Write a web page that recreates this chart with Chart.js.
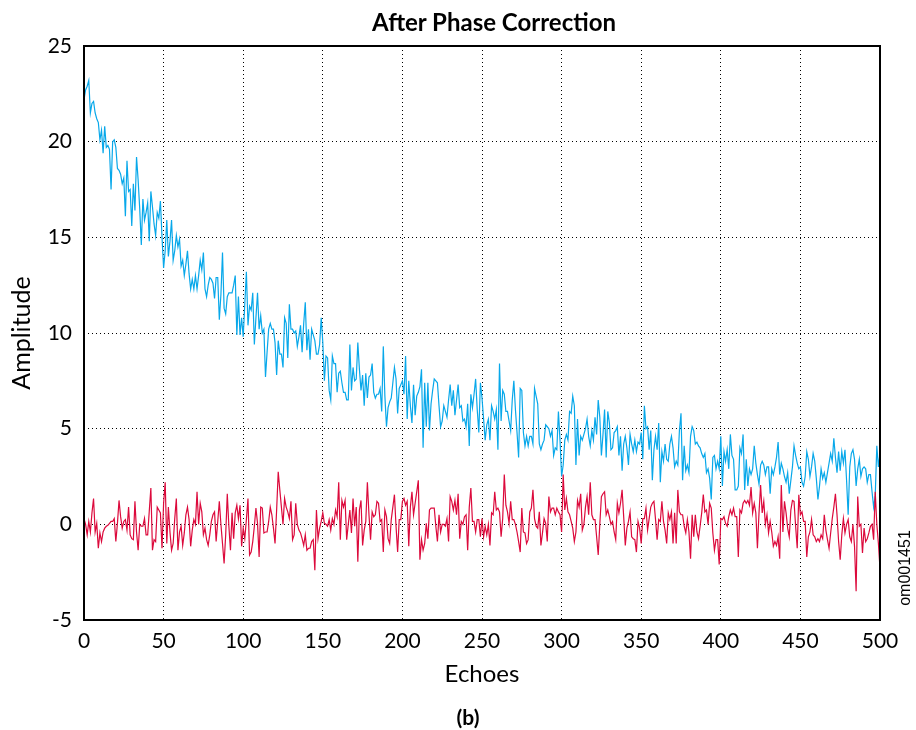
<!DOCTYPE html>
<html>
<head>
<meta charset="utf-8">
<script src="https://cdn.jsdelivr.net/npm/chart.js@4.4.1/dist/chart.umd.min.js"></script>
<style>
  body { margin: 0; background: #fff; }
  #wrap { position: relative; width: 916px; height: 730px; }
  #title { position: absolute; left: 294px; top: 7px; width: 400px; text-align: center;
           font: bold 24px Lato, sans-serif; color: #000; }
  #caption { position: absolute; left: 438px; top: 704px; width: 60px; text-align: center;
             font: bold 21px Lato, sans-serif; color: #000; }
  #code { position: absolute; left: 865px; top: 559px; width: 80px; height: 18px; text-align: center;
          font: 16px "Liberation Sans", sans-serif; color: #000; transform: rotate(-90deg); }
</style>
</head>
<body>
<div id="wrap">
  <canvas id="chart" width="916" height="730"></canvas>
  <div id="title">After Phase Correction</div>
  <div id="caption">(b)</div>
  <div id="code">om001451</div>
</div>
<script>
// amplitude per echo, echo = index (0..500)
const blueAmp = [
  22.2, 22.7, 22.9, 23.2, 21.5, 22.0, 22.1, 21.5, 21.2, 21.0,
  20.1, 20.6, 19.4, 20.8, 19.7, 19.8, 19.6, 17.5, 20.0, 20.1,
  19.7, 18.6, 18.5, 18.3, 17.8, 18.1, 16.1, 19.0, 17.4, 17.5,
  15.6, 17.8, 16.4, 19.2, 18.0, 16.5, 14.6, 17.0, 15.9, 16.3,
  16.8, 14.8, 17.4, 16.6, 15.7, 15.1, 16.3, 16.0, 16.9, 15.0,
  13.4, 14.3, 15.9, 14.0, 14.8, 15.9, 13.8, 14.3, 15.1, 14.5,
  14.9, 13.5, 13.8, 13.0, 13.6, 14.3, 13.1, 12.3, 12.8, 12.3,
  13.0, 12.3, 13.0, 13.8, 13.3, 14.2, 12.3, 11.9, 12.5, 12.9,
  12.8, 12.6, 11.8, 12.9, 12.9, 10.7, 12.0, 14.2, 11.3, 11.0,
  11.9, 12.1, 12.1, 12.1, 12.5, 13.0, 9.9, 11.9, 9.9, 10.8,
  9.8, 11.5, 13.2, 10.4, 11.4, 11.2, 12.1, 9.4, 10.8, 12.1,
  10.2, 10.9, 10.0, 10.2, 7.7, 9.0, 10.2, 10.5, 10.2, 10.2,
  9.5, 7.8, 9.6, 8.9, 8.9, 8.2, 10.8, 10.5, 8.7, 11.5,
  10.2, 10.2, 10.0, 10.1, 9.3, 9.8, 10.4, 9.0, 10.5, 11.6,
  9.1, 10.2, 8.6, 10.2, 9.9, 9.6, 8.9, 8.9, 9.4, 10.8,
  9.5, 7.5, 8.8, 8.7, 7.0, 6.5, 8.8, 8.4, 8.4, 6.9,
  7.9, 8.0, 7.4, 6.9, 6.9, 6.5, 6.5, 9.4, 7.0, 8.2,
  7.5, 7.6, 9.5, 8.1, 7.0, 7.8, 6.2, 7.9, 6.6, 7.7,
  7.8, 8.4, 6.9, 6.6, 6.8, 6.8, 7.1, 5.9, 9.3, 6.7,
  5.1, 6.1, 6.4, 6.6, 7.4, 8.2, 7.6, 5.8, 7.1, 7.3,
  7.5, 6.8, 8.8, 5.5, 7.5, 6.2, 5.3, 7.3, 5.7, 6.7,
  6.9, 7.2, 8.1, 4.0, 7.4, 5.1, 7.4, 4.9, 6.3, 7.0,
  7.6, 7.5, 7.4, 6.2, 5.1, 5.4, 6.2, 5.9, 5.6, 6.5,
  7.3, 6.2, 7.0, 5.7, 6.5, 7.3, 6.1, 6.2, 5.4, 5.5,
  5.1, 6.3, 4.1, 6.8, 6.1, 6.8, 7.6, 6.0, 4.8, 7.4,
  6.6, 5.5, 4.4, 5.2, 5.5, 4.4, 6.2, 5.9, 5.5, 6.0,
  3.9, 8.4, 5.4, 7.0, 6.8, 5.9, 5.9, 5.4, 4.9, 6.5,
  7.5, 6.0, 4.8, 3.5, 7.1, 7.0, 4.8, 4.1, 4.6, 4.1,
  4.6, 4.6, 4.2, 7.1, 6.7, 6.3, 4.2, 3.9, 4.2, 4.4,
  5.2, 5.1, 5.0, 4.6, 4.9, 3.6, 4.0, 3.9, 5.9, 4.4,
  2.5, 3.1, 4.4, 4.7, 4.4, 5.9, 5.8, 6.7, 6.2, 3.1,
  5.5, 3.6, 4.6, 4.4, 4.7, 5.0, 5.5, 4.6, 4.1, 4.9,
  4.4, 5.6, 4.7, 6.5, 5.6, 3.6, 4.7, 6.0, 3.5, 5.9,
  5.3, 3.9, 4.0, 4.8, 4.9, 5.1, 3.6, 4.6, 2.8, 4.2,
  4.6, 4.0, 3.1, 4.7, 4.2, 3.8, 4.4, 3.8, 4.3, 4.2,
  4.8, 3.4, 6.2, 5.0, 5.1, 3.9, 4.9, 2.3, 3.9, 4.6,
  3.9, 5.3, 2.2, 3.8, 3.3, 4.2, 3.4, 3.3, 4.2, 4.6,
  4.0, 3.0, 3.3, 3.1, 4.9, 5.8, 2.3, 4.1, 2.8, 3.1,
  2.7, 4.6, 5.1, 4.9, 4.2, 4.3, 4.1, 4.0, 3.7, 3.5,
  3.7, 2.7, 2.9, 2.4, 1.3, 3.5, 3.6, 2.9, 3.3, 2.9,
  4.6, 2.0, 3.8, 3.3, 3.9, 2.9, 4.7, 3.6, 3.4, 1.8,
  1.8, 2.0, 4.0, 3.7, 4.7, 1.8, 3.4, 2.0, 2.9, 2.6,
  2.9, 4.1, 3.2, 2.6, 2.1, 3.1, 3.3, 3.1, 2.6, 3.0,
  3.0, 1.6, 2.9, 2.6, 3.0, 3.5, 4.3, 2.6, 3.2, 2.9,
  2.5, 2.2, 2.7, 1.6, 2.3, 3.0, 4.1, 3.6, 3.2, 2.9,
  3.0, 2.2, 2.0, 2.5, 3.8, 3.4, 2.5, 3.0, 3.7, 3.3,
  2.4, 1.3, 2.0, 2.9, 2.4, 2.7, 2.2, 2.7, 3.2, 3.7,
  3.3, 4.5, 3.5, 2.7, 3.8, 2.8, 3.8, 3.2, 3.9, 2.3,
  0.5, 3.0, 3.7, 3.9, 3.4, 2.0, 2.9, 3.4, 2.5, 2.9,
  3.0, 2.9, 2.2, 2.6, 2.6, 1.7, 0.9, 1.5, 4.1, 3.0,
  3.7
];

const redAmp = [
  0.3, 0.0, -0.55, 0.15, -0.4, 0.6, 1.35, -0.4, 0.05, -1.25,
  -0.45, -0.9, -0.4, -0.2, -0.1, -0.05, 0.05, 0.15, 0.15, 0.3,
  -0.9, 0.05, 1.25, 0.4, -0.2, 0.15, 0.25, -0.3, 0.9, -0.55,
  -0.75, -0.8, 1.2, -0.4, -1.35, 0.0, -0.1, -0.1, 0.3, -0.55,
  -0.55, 0.7, 1.9, -1.35, -0.8, -0.9, 0.9, 0.75, 0.6, -1.25,
  1.1, 2.2, -1.0, 0.9, -0.4, -1.35, -1.0, 0.3, 1.35, -1.35,
  -0.4, -0.1, -1.1, -0.45, 0.5, 0.9, 0.25, -1.15, -0.3, 0.25,
  0.0, 1.7, 0.0, 1.1, 0.65, -0.55, -0.2, -0.8, -1.1, -0.55,
  0.15, 0.5, 0.65, -0.9, 0.15, 1.2, 0.0, -1.0, -2.05, -0.55,
  1.6, -0.1, -1.35, 0.6, -0.75, 0.6, 1.0, 0.3, 1.0, -1.15,
  -0.2, -0.75, 0.25, 1.35, -1.6, -1.45, -0.9, -0.1, 0.85, 0.05,
  -1.7, 0.9, 0.85, -0.45, -0.4, -0.4, 0.15, 0.9, 0.5, -0.2,
  -1.0, 0.75, 2.75, 1.8, 0.9, 0.0, 1.35, 0.9, 0.65, 0.3,
  1.2, -0.8, -0.55, 1.1, 0.0, -0.3, -0.45, -0.75, -1.1, -0.55,
  -1.35, -1.25, -1.25, -0.9, -0.8, -2.4, 0.75, -0.75, -0.2, 0.15,
  0.6, 0.05, 0.0, -0.1, 0.25, -0.3, 0.3, 0.0, 0.75, 0.4,
  2.2, -0.8, 1.25, 0.9, 1.25, -0.8, 0.0, 0.75, -0.45, 1.35,
  -0.1, 0.9, -1.95, 0.75, 1.25, -1.1, -0.3, 0.15, 2.2, 0.5,
  -0.8, 0.65, 0.4, 0.5, 1.2, 1.1, 0.15, 0.25, -1.45, 0.75,
  0.4, -0.75, -1.0, 0.25, 0.9, 1.55, -0.1, -1.45, 0.25, 0.25,
  1.2, 1.35, 1.0, 1.2, -1.15, 0.9, 1.7, 0.5, 1.1, 1.7,
  2.3, -1.85, -0.8, -1.35, -1.0, 0.05, -0.75, 0.75, 0.85, 0.85,
  0.85, -0.1, -0.9, 0.5, -0.4, 0.0, 0.0, -0.1, 0.3, -0.9,
  1.45, 1.2, 0.75, 1.25, 0.5, 1.6, -0.75, 0.15, 0.0, 0.4,
  0.5, -1.35, 0.9, 1.9, 0.15, 0.15, -0.4, 0.25, 0.25, -0.65,
  0.3, -0.65, -0.1, -0.55, 0.0, -1.1, 0.6, 0.5, 1.7, 0.75,
  0.85, 0.65, -0.65, 0.3, 2.6, 1.0, 0.65, 0.05, 1.2, 0.25,
  0.25, 0.0, -0.4, -0.9, -1.45, 0.85, -0.4, -0.45, -1.0, -0.8,
  0.65, 0.85, 1.8, 0.3, -0.1, -0.2, 0.65, -1.1, -0.45, 0.3,
  0.05, -0.9, 1.45, 0.65, 0.85, 0.85, 0.5, 0.85, 0.65, 0.5,
  -0.4, 2.6, 0.75, 1.35, 0.65, 0.5, 0.15, -0.2, -0.9, -0.4,
  1.25, 0.9, 1.6, -0.3, 0.0, 0.9, 1.45, 0.5, 2.2, 0.5,
  0.25, 0.25, -0.65, -1.6, 0.0, 1.45, 1.6, 1.7, 0.5, 0.75,
  0.4, 0.0, 0.15, -0.4, -0.8, 1.1, 0.6, 1.1, 1.8, 0.4,
  -1.1, -0.2, 0.15, 0.65, -0.65, -0.75, -0.8, -1.45, 0.15, -0.2,
  -1.0, 0.3, 0.3, 0.85, -0.3, 0.3, 0.9, 1.1, 1.2, 0.25,
  -0.8, 0.25, 0.15, 1.2, 0.15, -0.3, -1.0, 0.6, 0.25, 0.65,
  -1.0, 0.6, -1.0, 1.8, 0.65, 0.5, 0.5, -0.1, -0.45, 0.25,
  -0.4, -1.8, 0.5, -0.65, 0.5, -0.4, -0.75, -0.1, 0.6, 1.55,
  0.65, 0.75, 0.0, 1.1, 0.85, -0.45, -1.35, -0.8, -0.8, -2.1,
  0.3, 0.25, 0.4, 0.05, -0.1, 0.4, 0.75, 0.5, 0.85, 0.4,
  0.4, -1.7, 0.75, 0.6, 1.1, 1.25, 1.1, 1.25, 1.0, 1.95,
  0.6, 1.1, 0.6, -1.25, 0.6, 2.05, 0.6, 1.2, 0.0, 0.5,
  -0.45, 0.15, -0.4, -1.15, -0.9, -1.1, -0.65, -1.8, 2.05, -0.4,
  1.2, 0.6, -0.2, -0.65, 0.75, 1.25, 1.2, -0.1, -1.25, 1.55,
  0.5, 0.65, 0.15, 0.15, -1.7, -0.65, -0.4, 0.25, -0.55, -0.65,
  -0.9, -0.75, -0.9, -0.55, -0.75, 0.5, -0.3, -0.8, -1.25, -0.45,
  0.3, 0.9, 1.6, 0.5, -0.9, -1.85, -0.55, 0.3, -0.45, 0.0,
  0.25, -0.65, -0.9, 0.0, -1.15, -3.5, 1.45, -0.1, 0.0, -1.5,
  -0.2, -0.9, -0.75, -0.45, -0.1, 0.0, -0.8, 1.7, 0.0, -1.0,
  -2.3
];

const xRange = [0, 500];
const yRange = [-5, 25];

const toPoints = arr => arr.map((v, i) => ({ x: i, y: v }));

// black frame round the plot area
const framePlugin = {
    id: 'frame',
    afterDatasetsDraw(chart) {
        const { ctx, chartArea: a } = chart;
        ctx.save();
        ctx.strokeStyle = '#000';
        ctx.lineWidth = 2;
        ctx.strokeRect(a.left, a.top, a.right - a.left, a.bottom - a.top);
        ctx.restore();
    }
};

const tickFont = { family: 'Lato', size: 21 };

new Chart(document.getElementById('chart').getContext('2d'), {
    type: 'line',
    data: {
        datasets: [
            {
                label: 'imaginary',
                data: toPoints(redAmp),
                borderColor: '#dc0a3c',
                borderWidth: 1.2,
                pointRadius: 0,
                tension: 0
            },
            {
                label: 'real',
                data: toPoints(blueAmp),
                borderColor: '#08a8ea',
                borderWidth: 1.2,
                pointRadius: 0,
                tension: 0
            }
        ]
    },
    options: {
        responsive: false,
        animation: false,
        layout: { padding: { top: 46, right: 36, bottom: 40, left: 0 } },
        plugins: {
            legend: { display: false },
            tooltip: { enabled: false },
            title: { display: false }
        },
        scales: {
            x: {
                type: 'linear',
                min: xRange[0],
                max: xRange[1],
                ticks: { stepSize: 50, color: '#000', font: tickFont, padding: 9, maxRotation: 0 },
                grid: { color: '#000', lineWidth: 1, drawTicks: false },
                border: { display: false, dash: [1, 3] },
                title: { display: true, text: 'Echoes', color: '#000', font: { family: 'Lato', size: 24 }, padding: { top: 0, bottom: 1 } },
                afterFit(scale) { scale.height = 70; }
            },
            y: {
                min: yRange[0],
                max: yRange[1],
                ticks: { stepSize: 5, color: '#000', font: tickFont, padding: 12 },
                grid: { color: '#000', lineWidth: 1, drawTicks: false },
                border: { display: false, dash: [1, 3] },
                title: { display: true, text: 'Amplitude', color: '#000', font: { family: 'Lato', size: 25 }, padding: { top: 7, bottom: 0 } },
                afterFit(scale) { scale.width = 84; }
            }
        }
    },
    plugins: [framePlugin]
});
</script>
</body>
</html>
